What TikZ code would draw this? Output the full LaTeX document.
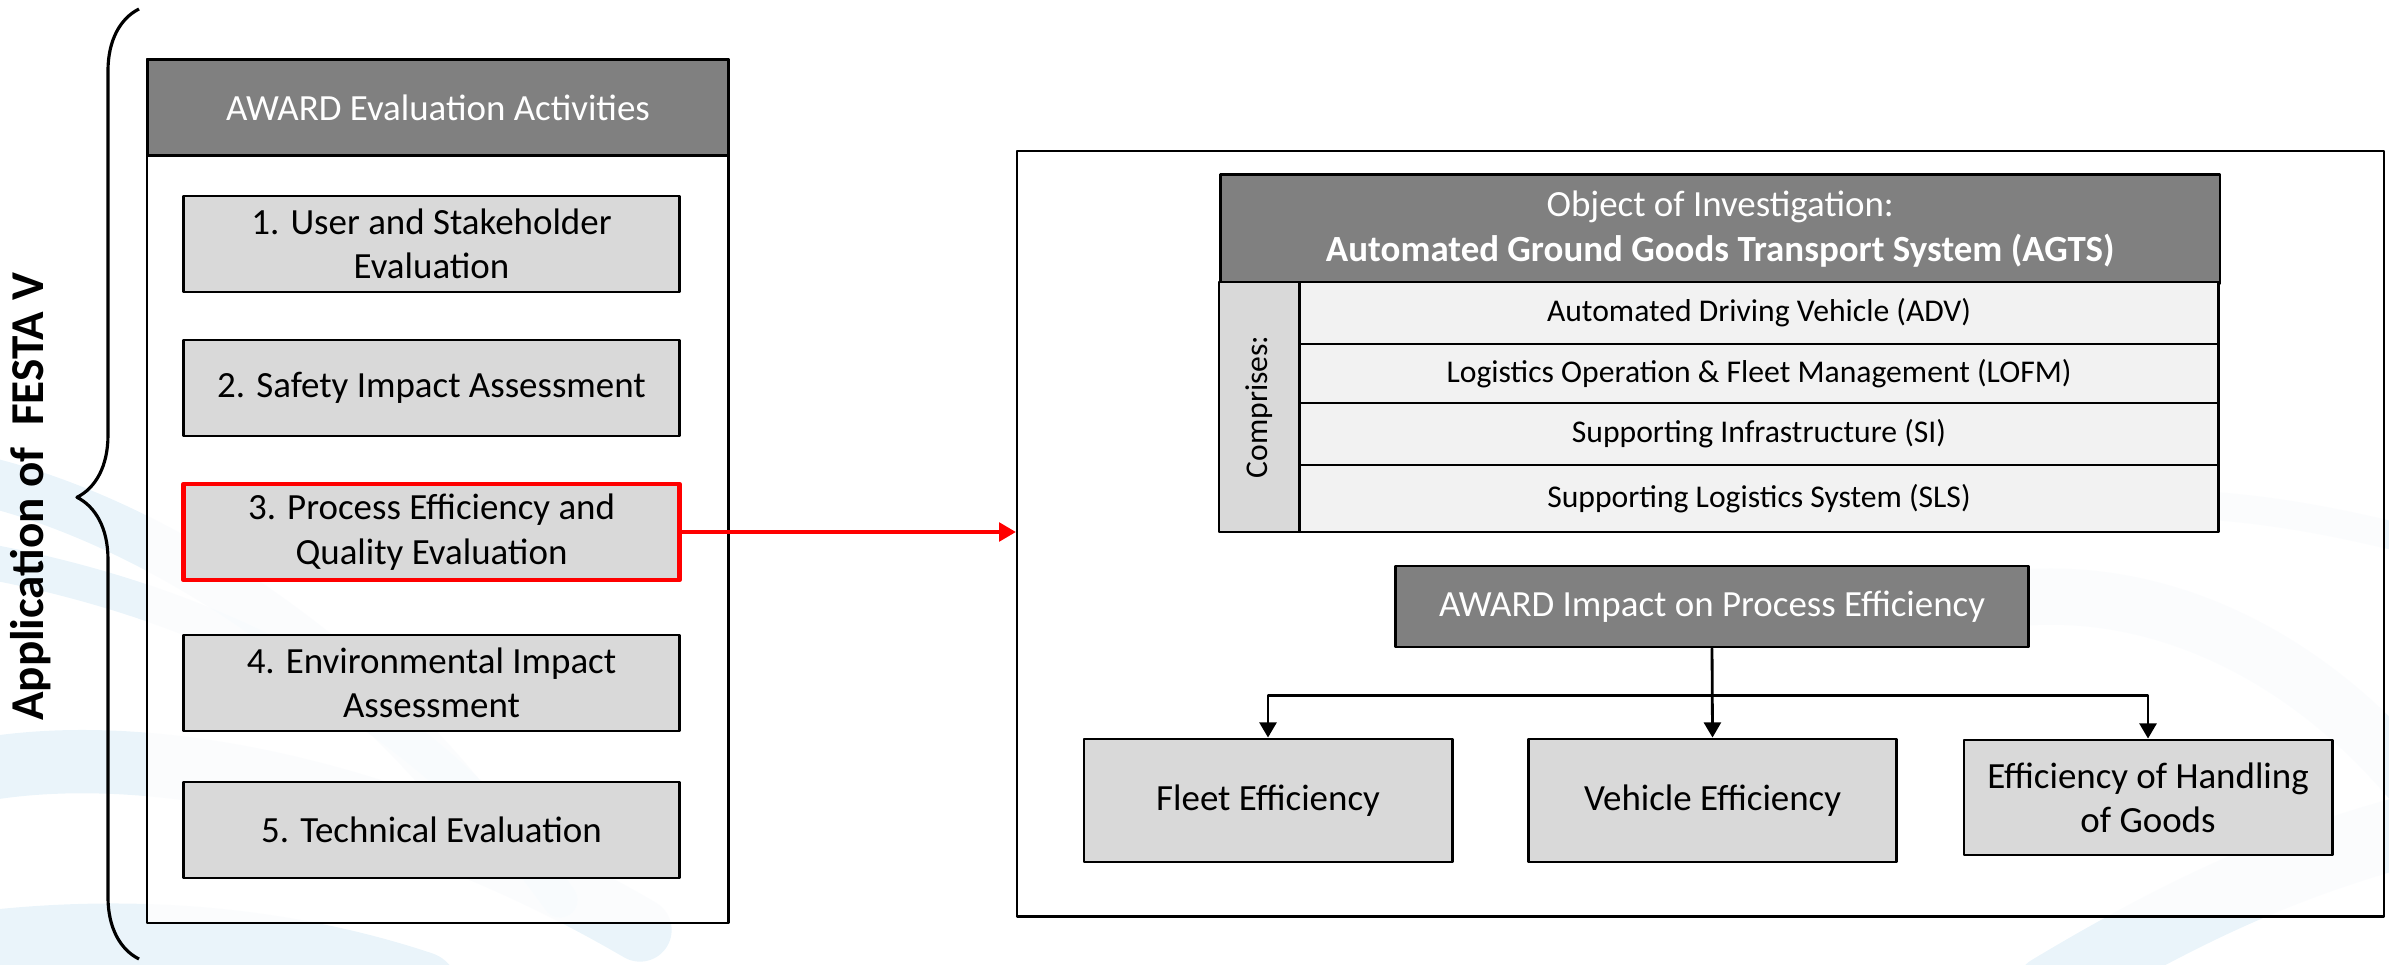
\documentclass[tikz,border=0pt]{standalone}
\usepackage{fontspec}
\setmainfont{Carlito}
\usetikzlibrary{arrows.meta,decorations.pathreplacing}
\definecolor{hdrgray}{RGB}{128,128,128}
\definecolor{boxgray}{RGB}{217,217,217}
\definecolor{rowgray}{RGB}{242,242,242}
\definecolor{swirl}{RGB}{186,220,240}
\newcommand{\boxfont}{\fontsize{10.5}{12.6}\selectfont}
\newcommand{\rowfont}{\fontsize{9}{10.8}\selectfont}
\newcommand{\sidefont}{\fontsize{13.4}{16}\selectfont\bfseries}
\tikzset{
  frame/.style={draw=black, line width=0.7pt, fill=white, fill opacity=0.8, inner sep=0pt, anchor=north west},
  hdr/.style={draw=black, line width=0.8pt, fill=hdrgray, text=white, inner sep=0pt, align=center},
  actbox/.style={draw=black, line width=0.8pt, fill=boxgray, inner sep=0pt, align=center,
    minimum width=4.95cm, minimum height=0.96cm},
  hotbox/.style={actbox, draw=red, line width=1.4pt},
  rowbox/.style={draw=black, line width=0.8pt, fill=rowgray, inner sep=0pt, font=\rowfont,
    minimum width=9.18cm},
  effbox/.style={draw=black, line width=0.8pt, fill=boxgray, inner sep=0pt, align=center,
    minimum width=3.68cm},
  link/.style={line width=0.8pt, -{Triangle[length=4.3pt,width=4.8pt]}},
  redlink/.style={draw=red, line width=1.4pt, -{Triangle[length=4.8pt,width=5.2pt]}}
}
\begin{document}
\begin{tikzpicture}[font=\boxfont, line join=round, x=0.01cm, y=-0.01cm]
\useasboundingbox (0,0) rectangle (2389,964);
% background swirls
\begin{scope}[draw=swirl, opacity=0.3, line cap=round]
\draw[line width=14pt] (-20,480) .. controls (150,520) and (350,650) .. (480,820);
\draw[line width=10pt] (-20,560) .. controls (200,600) and (420,700) .. (560,900);
\draw[line width=18pt] (-20,770) .. controls (150,740) and (400,790) .. (640,930);
\draw[line width=22pt] (-20,950) .. controls (150,930) and (300,950) .. (420,990);
\draw[line width=16pt] (2000,600) .. controls (2150,580) and (2300,650) .. (2410,780);
\draw[line width=8pt] (2200,505) .. controls (2280,510) and (2350,525) .. (2410,540);
\draw[line width=20pt] (2050,990) .. controls (2200,900) and (2300,860) .. (2410,830);
\end{scope}
% left panel
\draw[line width=0.9pt, decorate, decoration={brace, amplitude=0.62cm, aspect=0.486}]
  (139,959) -- (139,9);
\node[rotate=90, font=\sidefont] (festa) at (31,497) {Application of~~FESTA V};
\node[frame, minimum width=5.81cm, minimum height=8.63cm] (lframe) at (146,58) {};
\node[hdr, anchor=north west, minimum width=5.81cm, minimum height=0.96cm] (acthdr) at (146,58)
  {AWARD Evaluation Activities};
\foreach \i/\y/\s/\t in {1/244/actbox/{1. User and Stakeholder\\Evaluation},
                         2/388/actbox/{2. Safety Impact Assessment},
                         3/532/hotbox/{3. Process Efficiency and\\Quality Evaluation},
                         4/683/actbox/{4. Environmental Impact\\Assessment},
                         5/830/actbox/{5. Technical Evaluation}}
  \node[\s] (act\i) at (431.5,\y) {\t};
% right panel
\node[frame, minimum width=13.66cm, minimum height=7.65cm] (rframe) at (1016,150) {};
\node[hdr, anchor=north west, minimum width=9.99cm, minimum height=1.09cm] (objhdr) at (1219,173)
  {Object of Investigation:\\\textbf{Automated Ground Goods Transport System (AGTS)}};
\node[draw=black, line width=0.8pt, fill=boxgray, inner sep=0pt, rotate=90, font=\rowfont,
  minimum width=2.50cm, minimum height=0.81cm] (comp) at (1259.5,407) {Comprises:};
\foreach \i/\y/\h/\t in {1/313/0.62cm/{Automated Driving Vehicle (ADV)},
                         2/373.5/0.59cm/{Logistics Operation \& Fleet Management (LOFM)},
                         3/434/0.62cm/{Supporting Infrastructure (SI)},
                         4/498.5/0.67cm/{Supporting Logistics System (SLS)}}
  \node[rowbox, minimum height=\h] (row\i) at (1759,\y) {\t};
\node[hdr, minimum width=6.32cm, minimum height=0.81cm] (impact) at (1712,606.5)
  {AWARD Impact on Process Efficiency};
\node[effbox, minimum height=1.23cm] (fleet) at (1268,800.5) {Fleet Efficiency};
\node[effbox, minimum height=1.23cm] (vehicle) at (1712.5,800.5) {Vehicle Efficiency};
\node[effbox, minimum height=1.15cm] (goods) at (2148,797.5) {Efficiency of Handling\\of Goods};
% connectors
\draw[link] (impact.south) -- (vehicle.north);
\draw[link] (impact.south) -- ++(0,47) -| (fleet.north);
\draw[link] (impact.south) -- ++(0,47) -| (goods.north);
\draw[redlink] (act3.east) -- (act3.east -| rframe.west);
\end{tikzpicture}
\end{document}
